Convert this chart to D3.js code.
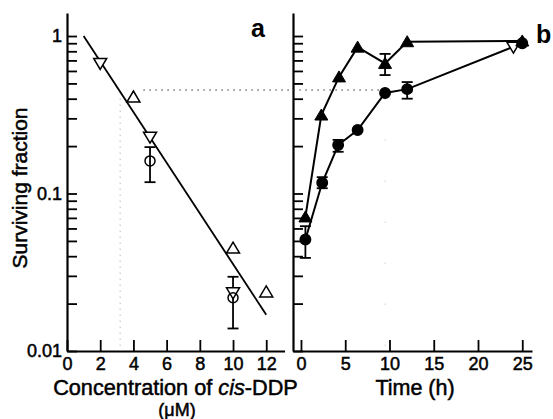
<!doctype html>
<html>
<head>
<meta charset="utf-8">
<title>Surviving fraction</title>
<style>
  body { margin: 0; background: #fff; }
  svg text { font-family: "Liberation Sans", Arial, sans-serif; fill: #000; }
</style>
</head>
<body>
<div id="here"></div>
<script src="https://d3js.org/d3.v7.min.js"></script>
<script>
  var w = 553, h = 419;

  // panel a: dose response
  var concTicks = [0, 2, 4, 6, 8, 10, 12];
  var fitConc = [1, 12];
  var fitVals = [1.0, 0.017];
  var downConc = [2, 5, 10];
  var downVals = [0.67, 0.228, 0.0234];
  var upConc = [4, 10, 12];
  var upVals = [0.41, 0.045, 0.0237];
  var circConcA = [5, 10];
  var circValsA = [0.161, 0.0218];
  var circLoA = [0.118, 0.0139];
  var circHiA = [0.197, 0.0296];

  // panel b: recovery with time
  var timeTicks = [0, 5, 10, 15, 20, 25];
  var triTime = [0.5, 2.3, 4.3, 6.4, 9.5, 12, 25];
  var triVals = [0.071, 0.315, 0.55, 0.85, 0.67, 0.92, 0.93];
  var triLo = [null, null, null, null, 0.565, null, null];
  var triHi = [null, null, null, null, 0.77, null, null];
  var circTime = [0.5, 2.4, 4.2, 6.4, 9.5, 12, 25];
  var circVals = [0.051, 0.117, 0.203, 0.253, 0.435, 0.46, 0.9];
  var circLo = [0.039, 0.108, 0.184, null, null, 0.40, null];
  var circHi = [0.062, 0.127, 0.219, null, null, 0.51, null];
  var openTime = [24];
  var openVals = [0.85];

  // dotted guide: 50% level
  var guideLevel = 0.454;
  var guideConc = 3.2;

  var yTicks = [];
  [-2, -1].forEach(function(k) {
    for (var m = 1; m <= 9; m++) yTicks.push(+(m * Math.pow(10, k)).toPrecision(3));
  });
  yTicks.push(1);

  var svg = d3.select("#here").append("svg")
    .attr("width", w)
    .attr("height", h);

  var y = d3.scaleLog().domain([0.01, 1.4]).range([351, 13]);
  var xa = d3.scaleLinear().domain([0, 13.1]).range([67, 284.5]);
  var xb = d3.scaleLinear().domain([-0.9, 26.1]).range([293, 532]);

  function yFmt(d) {
    if (d === 1) return "1";
    if (d === 0.1) return "0.1";
    if (d === 0.01) return "0.01";
    return "";
  }

  function styleAxis(g) {
    g.selectAll("path.domain").attr("stroke", "#000").attr("stroke-width", 2.2);
    g.selectAll(".tick line").attr("stroke", "#000").attr("stroke-width", 1.8);
    g.selectAll(".tick text")
      .style("font-family", '"Liberation Sans", Arial, sans-serif')
      .style("font-size", "18px")
      .attr("fill", "#000")
      .attr("stroke", "#000")
      .attr("stroke-width", 0.5);
  }

  // axes, panel a
  svg.append("g")
    .attr("transform", "translate(" + xa(0) + ",0)")
    .call(d3.axisLeft(y).tickValues(yTicks).tickFormat(yFmt)
      .tickSizeInner(-10).tickSizeOuter(0).tickPadding(5))
    .call(styleAxis);

  svg.append("g")
    .attr("transform", "translate(0," + y(0.01) + ")")
    .call(d3.axisBottom(xa).tickValues(concTicks).tickFormat(d3.format("d"))
      .tickSizeInner(-11).tickSizeOuter(0).tickPadding(6))
    .call(styleAxis);

  // axes, panel b
  svg.append("g")
    .attr("transform", "translate(" + xb(-0.9) + ",0)")
    .call(d3.axisLeft(y).tickValues(yTicks).tickFormat("")
      .tickSizeInner(-10).tickSizeOuter(0))
    .call(styleAxis);

  svg.append("g")
    .attr("transform", "translate(0," + y(0.01) + ")")
    .call(d3.axisBottom(xb).tickValues(timeTicks).tickFormat(d3.format("d"))
      .tickSizeInner(-11).tickSizeOuter(0).tickPadding(6))
    .call(styleAxis);

  // dotted guides
  svg.append("line")
    .attr("x1", xa(4.6)).attr("x2", xb(9.2))
    .attr("y1", y(guideLevel)).attr("y2", y(guideLevel))
    .attr("stroke", "#333").attr("stroke-width", 1)
    .attr("stroke-dasharray", "1.5,4.5");
  svg.append("line")
    .attr("x1", xa(guideConc)).attr("x2", xa(guideConc))
    .attr("y1", y(0.4)).attr("y2", y(0.01))
    .attr("stroke", "#999").attr("stroke-width", 1)
    .attr("stroke-dasharray", "1,5");
  svg.append("line")
    .attr("x1", xb(9.5)).attr("x2", xb(9.5))
    .attr("y1", y(0.4)).attr("y2", y(0.01))
    .attr("stroke", "#bbb").attr("stroke-width", 1)
    .attr("stroke-dasharray", "1,40");

  // fit line, panel a
  svg.append("path")
    .datum(d3.zip(fitConc, fitVals))
    .attr("d", d3.line().x(function(d) { return xa(d[0]); }).y(function(d) { return y(d[1]); }))
    .attr("fill", "none").attr("stroke", "#000").attr("stroke-width", 1.8);

  // connecting lines, panel b
  var lineB = d3.line().x(function(d) { return xb(d[0]); }).y(function(d) { return y(d[1]); });
  svg.append("path").datum(d3.zip(triTime, triVals)).attr("d", lineB)
    .attr("fill", "none").attr("stroke", "#000").attr("stroke-width", 2);
  svg.append("path").datum(d3.zip(circTime, circVals)).attr("d", lineB)
    .attr("fill", "none").attr("stroke", "#000").attr("stroke-width", 2);

  // error bars
  function errBars(xs, lo, hi, xs_scale) {
    var data = [];
    xs.forEach(function(x, i) { if (lo[i] != null) data.push([x, lo[i], hi[i]]); });
    var g = svg.append("g").attr("stroke", "#000").attr("stroke-width", 1.8);
    g.selectAll(".v").data(data).enter().append("line")
      .attr("x1", function(d) { return xs_scale(d[0]); })
      .attr("x2", function(d) { return xs_scale(d[0]); })
      .attr("y1", function(d) { return y(d[1]); })
      .attr("y2", function(d) { return y(d[2]); });
    [1, 2].forEach(function(k) {
      g.selectAll(".c" + k).data(data).enter().append("line")
        .attr("x1", function(d) { return xs_scale(d[0]) - 5.5; })
        .attr("x2", function(d) { return xs_scale(d[0]) + 5.5; })
        .attr("y1", function(d) { return y(d[k]); })
        .attr("y2", function(d) { return y(d[k]); });
    });
  }
  errBars(circConcA, circLoA, circHiA, xa);
  errBars(triTime, triLo, triHi, xb);
  errBars(circTime, circLo, circHi, xb);

  // markers
  var triUp = "M0,-6L6.5,5L-6.5,5Z";
  var triDown = "M0,6L6.5,-5L-6.5,-5Z";

  function marks(xs, vals, xsc, path, fill, sw) {
    svg.append("g").selectAll("path").data(d3.zip(xs, vals)).enter().append("path")
      .attr("d", path)
      .attr("transform", function(d) { return "translate(" + xsc(d[0]) + "," + y(d[1]) + ")"; })
      .attr("fill", fill).attr("stroke", "#000").attr("stroke-width", sw);
  }
  function circles(xs, vals, xsc, fill, r) {
    svg.append("g").selectAll("circle").data(d3.zip(xs, vals)).enter().append("circle")
      .attr("cx", function(d) { return xsc(d[0]); })
      .attr("cy", function(d) { return y(d[1]); })
      .attr("r", r)
      .attr("fill", fill).attr("stroke", "#000").attr("stroke-width", 1.5);
  }

  marks(downConc, downVals, xa, triDown, "#fff", 1.5);
  marks(upConc, upVals, xa, triUp, "#fff", 1.5);
  circles(circConcA, circValsA, xa, "none", 5);

  marks(openTime, openVals, xb, triDown, "#fff", 1.5);
  circles(circTime, circVals, xb, "#000", 5.2);
  marks(triTime, triVals, xb, triUp, "#000", 1);

  // panel letters
  svg.append("text").attr("x", 251).attr("y", 37)
    .style("font-size", "25px").style("font-weight", "bold").text("a");
  svg.append("text").attr("x", 536).attr("y", 43)
    .style("font-size", "25px").style("font-weight", "bold").text("b");

  // axis titles
  svg.append("text")
    .attr("transform", "translate(27,188) rotate(-90)")
    .attr("text-anchor", "middle")
    .attr("stroke", "#000").attr("stroke-width", 0.5)
    .style("font-size", "21px")
    .text("Surviving fraction");

  var xt = svg.append("text")
    .attr("x", 175.5).attr("y", 394.5)
    .attr("text-anchor", "middle")
    .attr("stroke", "#000").attr("stroke-width", 0.5)
    .style("font-size", "21.7px");
  xt.append("tspan").text("Concentration of ");
  xt.append("tspan").style("font-style", "italic").text("cis");
  xt.append("tspan").text("-DDP");

  svg.append("text")
    .attr("x", 177).attr("y", 415.5)
    .attr("text-anchor", "middle")
    .attr("stroke", "#000").attr("stroke-width", 0.5)
    .style("font-size", "18px")
    .text("(\u03bcM)");

  svg.append("text")
    .attr("x", 415).attr("y", 394.5)
    .attr("text-anchor", "middle")
    .attr("stroke", "#000").attr("stroke-width", 0.5)
    .style("font-size", "21.5px")
    .text("Time (h)");
</script>
</body>
</html>
